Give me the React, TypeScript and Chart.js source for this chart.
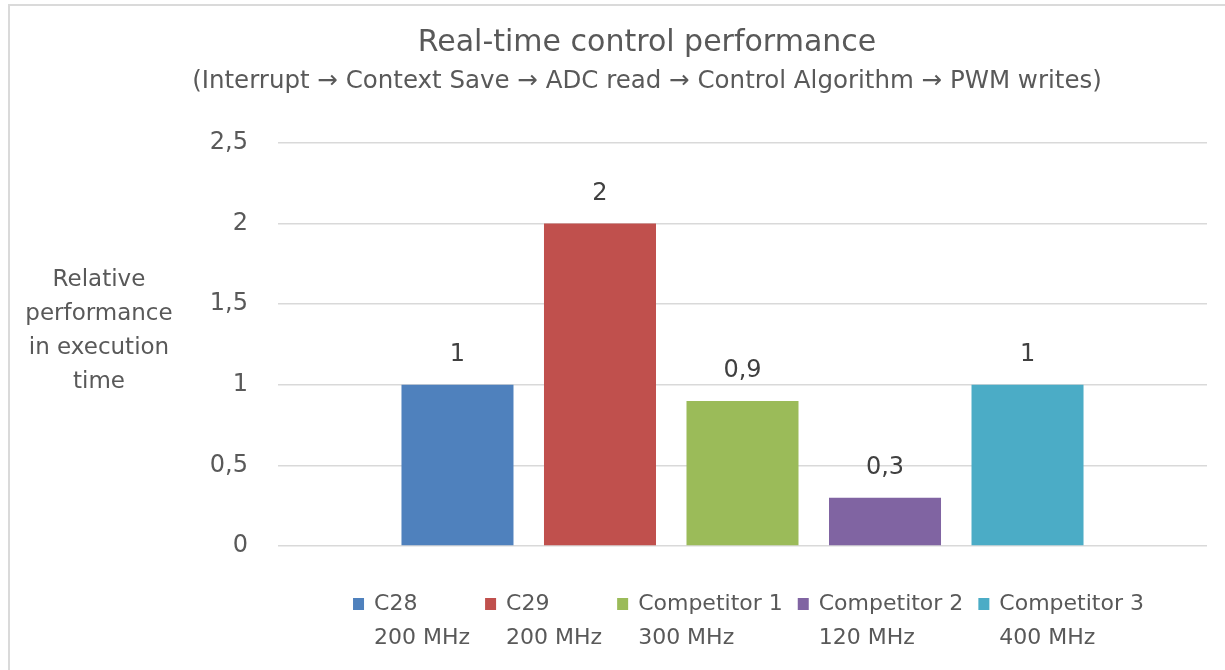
import { useEffect, useRef } from 'react';
import { Chart, registerables } from 'chart.js';

Chart.register(...registerables);

const FONT = '"DejaVu Sans", sans-serif';
const TEXT = '#595959';
const LABEL = '#404040';

const categories = [''];
const seriesNames = ['C28', 'C29', 'Competitor 1', 'Competitor 2', 'Competitor 3'];
const seriesClocks = ['200 MHz', '200 MHz', '300 MHz', '120 MHz', '400 MHz'];
const seriesValues = [1, 2, 0.9, 0.3, 1];
const seriesColors = ['#4F81BD', '#C0504D', '#9BBB59', '#8064A2', '#4BACC6'];

const yMin = 0;
const yMax = 2.5;
const yStep = 0.5;

const titleText = 'Real-time control performance';
const subtitleText = '(Interrupt \u2192 Context Save \u2192 ADC read \u2192 Control Algorithm \u2192 PWM writes)';
const yTitleLines = ['Relative', 'performance', 'in execution', 'time'];

const fmt = (v: number) => String(v).replace('.', ',');

const decorPlugin = {
  id: 'decor',
  beforeDraw(chart: any) {
    const { ctx, width, height } = chart;
    ctx.save();
    ctx.fillStyle = '#ffffff';
    ctx.fillRect(0, 0, width, height);
    ctx.strokeStyle = '#dadada';
    ctx.lineWidth = 2;
    ctx.beginPath();
    ctx.moveTo(9, height);
    ctx.lineTo(9, 5);
    ctx.lineTo(width, 5);
    ctx.stroke();
    ctx.restore();
  },
  afterDraw(chart: any) {
    const { ctx, chartArea } = chart;
    ctx.save();
    ctx.textAlign = 'center';
    ctx.textBaseline = 'middle';
    ctx.fillStyle = TEXT;
    ctx.font = `30px ${FONT}`;
    ctx.fillText(titleText, 647, 43);
    ctx.font = `24.5px ${FONT}`;
    ctx.fillText(subtitleText, 647, 82);
    ctx.font = `23px ${FONT}`;
    yTitleLines.forEach((l, i) => ctx.fillText(l, 99, 280 + i * 34));

    // data labels
    ctx.font = `24px ${FONT}`;
    ctx.fillStyle = LABEL;
    chart.data.datasets.forEach((ds: any, i: number) => {
      const meta = chart.getDatasetMeta(i);
      meta.data.forEach((bar: any, j: number) => {
        ctx.fillText(fmt(ds.data[j]), bar.x, bar.y - 30);
      });
    });

    // legend
    ctx.font = `22px ${FONT}`;
    ctx.textAlign = 'left';
    const box = 11;
    const gap = 10;
    const spacing = 15;
    const items = chart.data.datasets.map((ds: any) => {
      const w = Math.max(ctx.measureText(ds.label).width, ctx.measureText(ds.clock).width);
      return { ds, w: box + gap + w };
    });
    const total = items.reduce((s: number, it: any) => s + it.w, 0) + spacing * (items.length - 1);
    let x = (chartArea.left + chartArea.right) / 2 + 6 - total / 2;
    items.forEach((it: any) => {
      ctx.fillStyle = it.ds.backgroundColor;
      ctx.fillRect(x, 598, box, 12);
      ctx.fillStyle = TEXT;
      ctx.fillText(it.ds.label, x + box + gap, 604);
      ctx.fillText(it.ds.clock, x + box + gap, 638);
      x += it.w + spacing;
    });
    ctx.restore();
  },
};

export default function App() {
  const ref = useRef<HTMLCanvasElement | null>(null);

  useEffect(() => {
    if (!ref.current) return;
    const chart = new Chart(ref.current, {
      type: 'bar',
      data: {
        labels: categories,
        datasets: seriesNames.map((name, i) => ({
          label: name,
          clock: seriesClocks[i],
          data: [seriesValues[i]],
          backgroundColor: seriesColors[i],
          borderWidth: 0,
        })) as any,
      },
      options: {
        responsive: false,
        animation: false,
        devicePixelRatio: 1,
        layout: { padding: { left: 208, right: 18, top: 143, bottom: 124 } },
        datasets: { bar: { categoryPercentage: 0.767, barPercentage: 0.786 } },
        plugins: {
          legend: { display: false },
          title: { display: false },
          tooltip: { enabled: false },
        },
        scales: {
          x: { display: false },
          y: {
            min: yMin,
            max: yMax,
            afterFit: (s: any) => {
              s.width = 70;
            },
            border: { display: false },
            grid: { color: '#d9d9d9', lineWidth: 1.5, drawTicks: false },
            ticks: {
              stepSize: yStep,
              padding: 30,
              color: TEXT,
              font: { family: FONT, size: 24 },
              callback: (v: any) => fmt(Number(v)),
            },
          },
        },
      },
      plugins: [decorPlugin],
    });
    return () => chart.destroy();
  }, []);

  return (
    <div style={{ position: 'absolute', left: 0, top: 0, width: 1225, height: 670 }}>
      <canvas ref={ref} width={1225} height={670} style={{ display: 'block', width: 1225, height: 670 }} />
    </div>
  );
}
